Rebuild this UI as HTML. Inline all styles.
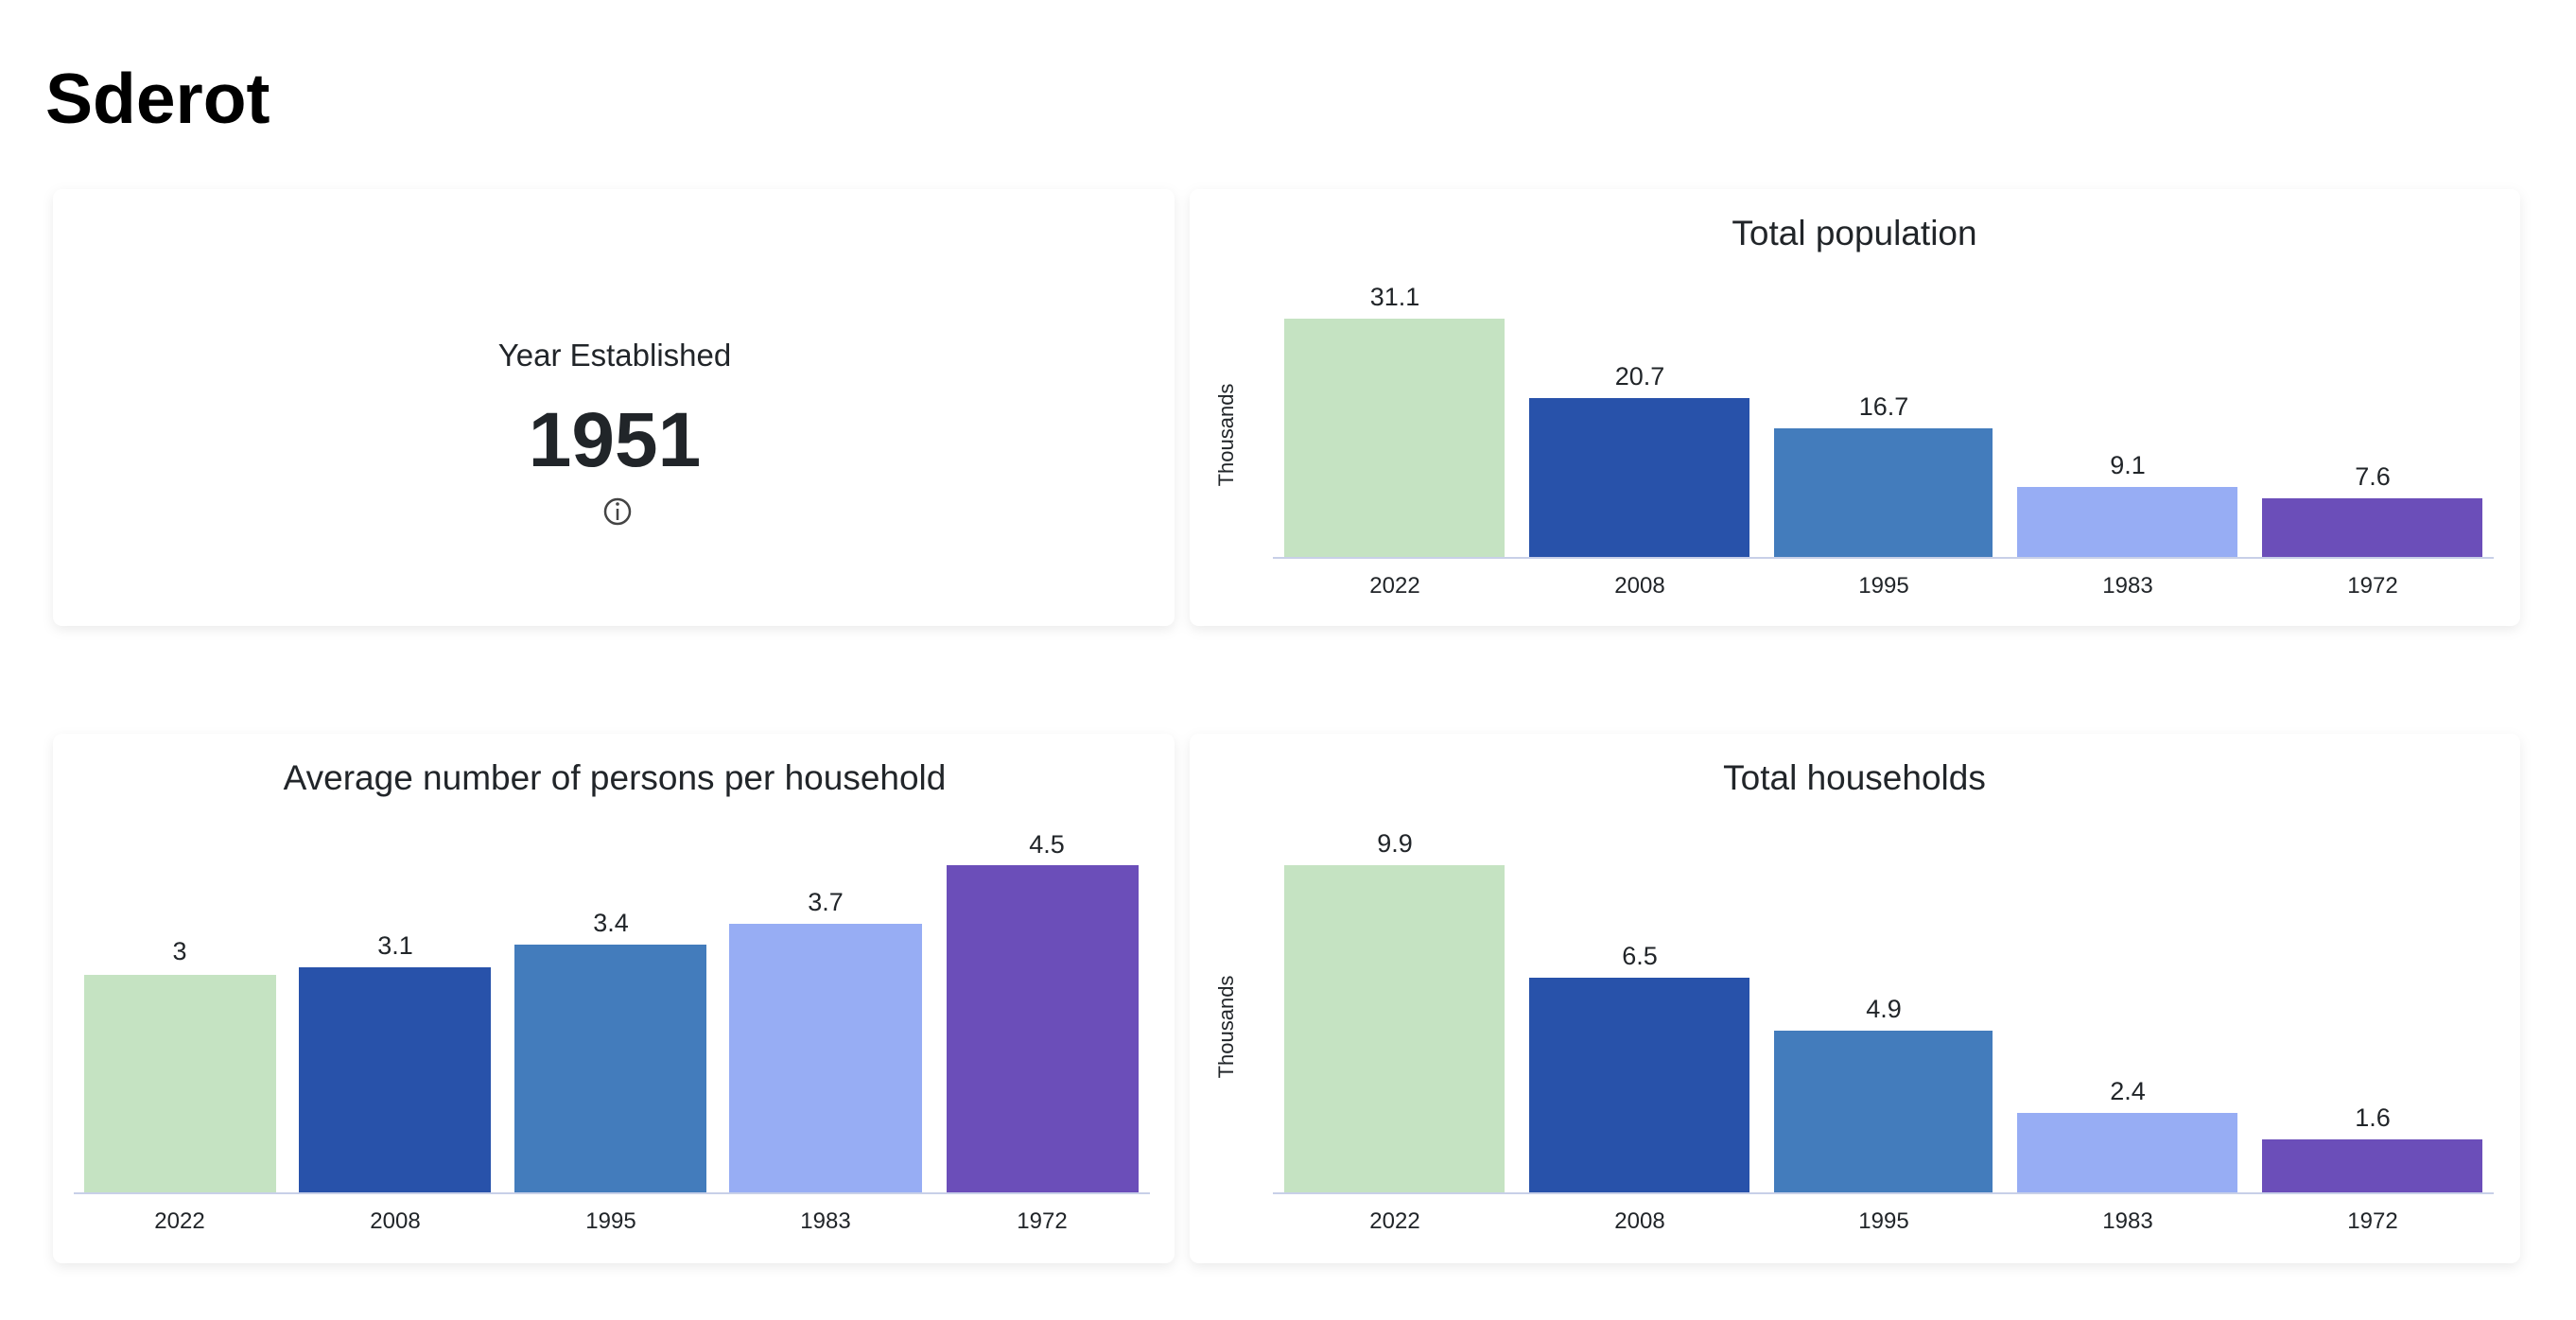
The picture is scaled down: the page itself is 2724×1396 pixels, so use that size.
<!DOCTYPE html>
<html><head><meta charset="utf-8"><style>
html,body{margin:0;padding:0;background:#fff;}
svg{display:block;}
text{font-family:"Liberation Sans",sans-serif;fill:#212529;}
</style></head><body>
<svg width="2724" height="1396" viewBox="0 0 2724 1396" xmlns="http://www.w3.org/2000/svg">
<defs>
<filter id="sh" x="-5%" y="-5%" width="110%" height="115%"><feDropShadow dx="0" dy="4" stdDeviation="6" flood-color="#000" flood-opacity="0.08"/></filter>
</defs>
<text x="48" y="130" font-size="75" font-weight="bold" style="fill:#000">Sderot</text>
<g filter="url(#sh)" fill="#fff">
<rect x="56" y="200" width="1186" height="462" rx="10"/>
<rect x="1258" y="200" width="1407" height="462" rx="10"/>
<rect x="56" y="776" width="1186" height="560" rx="10"/>
<rect x="1258" y="776" width="1407" height="560" rx="10"/>
</g>
<!-- Year established -->
<text x="650" y="387" font-size="33" text-anchor="middle">Year Established</text>
<text x="650" y="493" font-size="82" font-weight="bold" text-anchor="middle">1951</text>
<circle cx="653" cy="541" r="13" fill="none" stroke="#444" stroke-width="2.5"/>
<line x1="653" y1="538" x2="653" y2="550" stroke="#444" stroke-width="2.5"/>
<circle cx="653" cy="533" r="1.8" fill="#444"/>
<!-- Total population -->
<text x="1961" y="259" font-size="37" text-anchor="middle">Total population</text>
<text transform="translate(1304,460) rotate(-90)" font-size="22" text-anchor="middle">Thousands</text>
<rect x="1358" y="337" width="233" height="252" fill="#c5e3c2"/>
<rect x="1617" y="421" width="233" height="168" fill="#2852aa"/>
<rect x="1876" y="453" width="231" height="136" fill="#437cbc"/>
<rect x="2133" y="515" width="233" height="74" fill="#97adf4"/>
<rect x="2392" y="527" width="233" height="62" fill="#6b4eb9"/>
<line x1="1346" y1="590" x2="2637" y2="590" stroke="#c8d0e8" stroke-width="2"/>
<g font-size="27" text-anchor="middle">
<text x="1475" y="323">31.1</text><text x="1734" y="407">20.7</text><text x="1992" y="439">16.7</text><text x="2250" y="501">9.1</text><text x="2509" y="513">7.6</text>
</g>
<g font-size="24" text-anchor="middle">
<text x="1475" y="627">2022</text><text x="1734" y="627">2008</text><text x="1992" y="627">1995</text><text x="2250" y="627">1983</text><text x="2509" y="627">1972</text>
</g>
<!-- Avg persons -->
<text x="650" y="835" font-size="37" text-anchor="middle">Average number of persons per household</text>
<rect x="89" y="1031" width="203" height="230" fill="#c5e3c2"/>
<rect x="316" y="1023" width="203" height="238" fill="#2852aa"/>
<rect x="544" y="999" width="203" height="262" fill="#437cbc"/>
<rect x="771" y="977" width="204" height="284" fill="#97adf4"/>
<rect x="1001" y="915" width="203" height="346" fill="#6b4eb9"/>
<line x1="78" y1="1262" x2="1216" y2="1262" stroke="#c8d0e8" stroke-width="2"/>
<g font-size="27" text-anchor="middle">
<text x="190" y="1015">3</text><text x="418" y="1009">3.1</text><text x="646" y="985">3.4</text><text x="873" y="963">3.7</text><text x="1107" y="902">4.5</text>
</g>
<g font-size="24" text-anchor="middle">
<text x="190" y="1299">2022</text><text x="418" y="1299">2008</text><text x="646" y="1299">1995</text><text x="873" y="1299">1983</text><text x="1102" y="1299">1972</text>
</g>
<!-- Total households -->
<text x="1961" y="835" font-size="37" text-anchor="middle">Total households</text>
<text transform="translate(1304,1086) rotate(-90)" font-size="22" text-anchor="middle">Thousands</text>
<rect x="1358" y="915" width="233" height="346" fill="#c5e3c2"/>
<rect x="1617" y="1034" width="233" height="227" fill="#2852aa"/>
<rect x="1876" y="1090" width="231" height="171" fill="#437cbc"/>
<rect x="2133" y="1177" width="233" height="84" fill="#97adf4"/>
<rect x="2392" y="1205" width="233" height="56" fill="#6b4eb9"/>
<line x1="1346" y1="1262" x2="2637" y2="1262" stroke="#c8d0e8" stroke-width="2"/>
<g font-size="27" text-anchor="middle">
<text x="1475" y="901">9.9</text><text x="1734" y="1020">6.5</text><text x="1992" y="1076">4.9</text><text x="2250" y="1163">2.4</text><text x="2509" y="1191">1.6</text>
</g>
<g font-size="24" text-anchor="middle">
<text x="1475" y="1299">2022</text><text x="1734" y="1299">2008</text><text x="1992" y="1299">1995</text><text x="2250" y="1299">1983</text><text x="2509" y="1299">1972</text>
</g>
</svg>
</body></html>
